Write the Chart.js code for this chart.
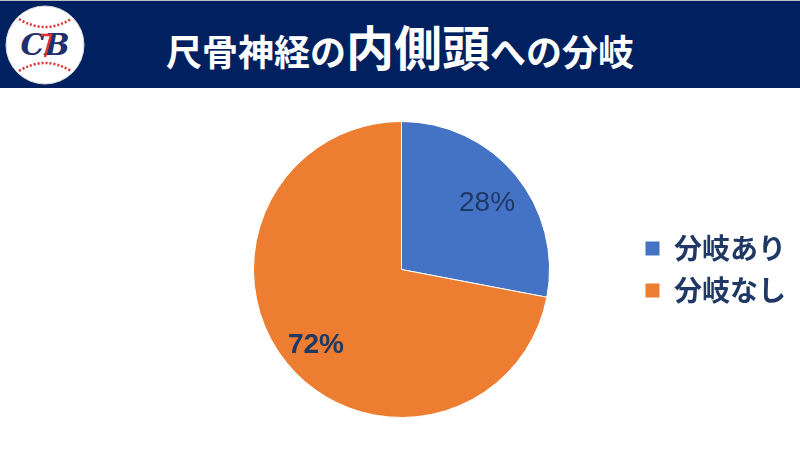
<!DOCTYPE html>
<html lang="ja">
<head>
<meta charset="utf-8">
<script src="https://cdn.jsdelivr.net/npm/chart.js@4.4.0/dist/chart.umd.min.js"></script>
<style>
  body { margin: 0; width: 800px; height: 451px; overflow: hidden; background: #fff; font-family: "Noto Sans CJK JP", sans-serif; }
  #header { position: absolute; left: 0; top: 0; width: 800px; height: 88px; background: #002060; border-top: 1px solid #bfbfbf; box-sizing: border-box; }
  #logo { position: absolute; left: 5px; top: 4px; }
  #title { position: absolute; left: 166px; top: 20px; color: #fff; font-weight: bold; font-size: 36px; line-height: 48px; white-space: nowrap; }
  #title .big { font-size: 48px; }
  #chartBox { position: absolute; left: 0; top: 88px; width: 800px; height: 363px; }
</style>
</head>
<body>
<div id="header">
  <svg id="logo" width="80" height="80" viewBox="0 0 80 80">
    <circle cx="40" cy="40" r="39" fill="#fff" stroke="#d9d9d9" stroke-width="1"/>
    <path d="M14 14 Q40 30 66 14" fill="none" stroke="#e03030" stroke-width="2.5" stroke-dasharray="2 2"/>
    <path d="M14 66 Q40 50 66 66" fill="none" stroke="#e03030" stroke-width="2.5" stroke-dasharray="2 2"/>
    <text x="40" y="50" text-anchor="middle" font-family="DejaVu Serif, serif" font-style="italic" font-weight="bold" font-size="30" fill="#1f2f6b">CB</text>
    <path d="M36 30 L46 30 L40 52" fill="none" stroke="#e03030" stroke-width="2.5"/>
  </svg>
  <div id="title">尺骨神経の<span class="big">内側頭</span>への分岐</div>
</div>
<div id="chartBox"><canvas id="pie" width="800" height="363"></canvas></div>
<script>
const categories = ['分岐あり', '分岐なし'];
const shares = [28, 72];
const sliceColors = ['#4472C4', '#ED7D31'];

// percentage labels drawn inside each slice
const sliceLabels = {
  id: 'sliceLabels',
  afterDatasetsDraw(chart) {
    const ctx = chart.ctx;
    const meta = chart.getDatasetMeta(0);
    meta.data.forEach((arc, i) => {
      const p = arc.getProps(['x', 'y', 'startAngle', 'endAngle', 'outerRadius'], true);
      const mid = (p.startAngle + p.endAngle) / 2;
      const r = p.outerRadius * 0.75;
      ctx.save();
      ctx.fillStyle = '#1F3864';
      ctx.font = (i === 1 ? 'bold ' : '') + '28px "Liberation Sans", Arial, sans-serif';
      ctx.textAlign = 'center';
      ctx.textBaseline = 'middle';
      ctx.fillText(shares[i] + '%', p.x + Math.cos(mid) * r, p.y + Math.sin(mid) * r + 5);
      ctx.restore();
    });
  }
};

const ctx = document.getElementById('pie').getContext('2d');
const pieChart = new Chart(ctx, {
  type: 'pie',
  data: {
    labels: categories,
    datasets: [{
      data: shares,
      backgroundColor: sliceColors,
      borderColor: '#ffffff',
      borderWidth: 1,
      hoverOffset: 0
    }]
  },
  options: {
    responsive: false,
    animation: false,
    events: [],
    layout: { padding: { left: 172, right: 4, top: 33, bottom: 33 } },
    plugins: {
      tooltip: { enabled: false },
      legend: {
        position: 'right',
        labels: {
          color: '#1F3864',
          font: { family: '"Noto Sans CJK JP", sans-serif', size: 28, weight: 'bold' },
          boxWidth: 15,
          boxHeight: 15,
          padding: 14
        }
      }
    }
  },
  plugins: [sliceLabels]
});
</script>
</body>
</html>
